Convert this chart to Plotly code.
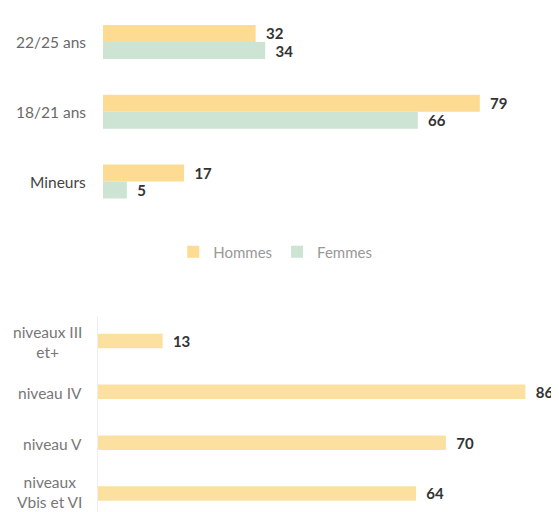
import plotly.graph_objects as go

# ---- data ----
age_categories = ["22/25 ans", "18/21 ans", "Mineurs"]
hommes_values = [32, 79, 17]
femmes_values = [34, 66, 5]

level_categories = ["niveaux III<br>et+", "niveau IV", "niveau V", "niveaux<br>Vbis et VI"]
level_values = [13, 86, 70, 64]

series_names = ["Hommes", "Femmes"]

# ---- styles ----
C_H = "#FDDB93"
C_F = "#CDE3D3"
C_L = "#FBE0A0"
FONT = "Lato, 'Open Sans', sans-serif"
NB = "\u00a0\u00a0"
W, H = 551, 504  # page body has an 8px margin
VAL_FONT = dict(family=FONT, size=15, color="#333", weight="bold")

fig = go.Figure()

fig.add_trace(go.Bar(
    name=series_names[0], y=age_categories, x=hommes_values, orientation="h",
    marker=dict(color=C_H, line=dict(width=0)), width=0.245, offset=-0.245,
    texttemplate=NB + "%{x}", textposition="outside", textfont=VAL_FONT,
    cliponaxis=False, constraintext="none", xaxis="x", yaxis="y"))
fig.add_trace(go.Bar(
    name=series_names[1], y=age_categories, x=femmes_values, orientation="h",
    marker=dict(color=C_F, line=dict(width=0)), width=0.245, offset=0,
    texttemplate=NB + "%{x}", textposition="outside", textfont=VAL_FONT,
    cliponaxis=False, constraintext="none", xaxis="x", yaxis="y"))
fig.add_trace(go.Bar(
    name="Niveaux", y=level_categories, x=level_values, orientation="h",
    marker=dict(color=C_L, line=dict(width=0)), width=0.285, showlegend=False,
    texttemplate=NB + "%{x}", textposition="outside", textfont=VAL_FONT,
    cliponaxis=False, constraintext="none", xaxis="x2", yaxis="y2"))

annotations = []
age_colors = ["#6a6a6a", "#6a6a6a", "#444444"]
for cat, col in zip(age_categories, age_colors):
    annotations.append(dict(x=80 / W, xref="paper", y=cat, yref="y", text=cat,
                            xanchor="right", yanchor="middle", showarrow=False,
                            font=dict(family=FONT, size=15.5, color=col)))
for cat in level_categories:
    annotations.append(dict(x=76 / W, xref="paper", y=cat, yref="y2", text=cat,
                            xanchor="right", yanchor="middle", showarrow=False, align="center",
                            yshift=-1 if cat != level_categories[-1] else 2,
                            font=dict(family=FONT, size=15.5, color="#777777")))

fig.update_layout(
    width=W, height=H, margin=dict(l=0, r=0, t=0, b=0),
    paper_bgcolor="white", plot_bgcolor="white",
    barmode="overlay",
    xaxis=dict(domain=[95 / W, 1], range=[0, 95.6], visible=False, anchor="y"),
    yaxis=dict(domain=[0.5865, 1], range=[2.5, -0.4875], type="category",
               showticklabels=False, showgrid=False, zeroline=False, showline=False, anchor="x"),
    xaxis2=dict(domain=[90 / W, 1], range=[0, 92.76], visible=False, anchor="y2"),
    yaxis2=dict(domain=[0, 0.3897], range=[3.364, -0.5], type="category",
                showticklabels=False, showgrid=False, zeroline=False,
                showline=True, linecolor="#efefef", linewidth=1, anchor="x2"),
    legend=dict(orientation="h", x=0.485, xanchor="center", y=0.516, yanchor="middle",
                font=dict(family=FONT, size=15, color="#999999"), itemwidth=30,
                traceorder="normal"),
    annotations=annotations,
)

fig.write_html("out.html")
